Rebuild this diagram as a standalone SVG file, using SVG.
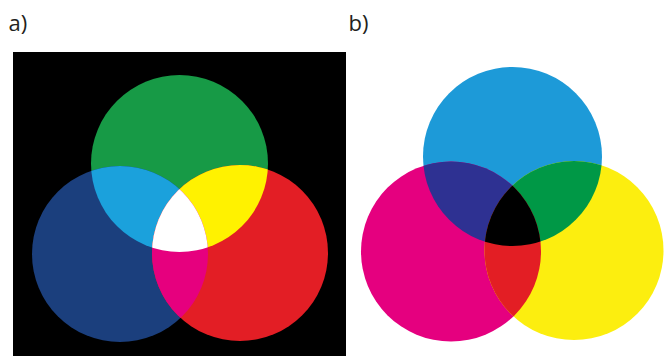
<svg xmlns="http://www.w3.org/2000/svg" xmlns:xlink="http://www.w3.org/1999/xlink" width="664" height="356" viewBox="0 0 664 356">
  <style>
    .lbl { font-family: "Open Sans", "Liberation Sans", sans-serif; font-size: 22px; fill: #231f20; }
  </style>
  <defs>
    <circle id="cG" cx="179.5" cy="163.5" r="88.5"/>
    <circle id="cB" cx="120" cy="254" r="88"/>
    <circle id="cR" cx="240" cy="253" r="88"/>
    <circle id="cC" cx="512.5" cy="156.5" r="89.5"/>
    <circle id="cM" cx="451" cy="251.5" r="90"/>
    <circle id="cY" cx="574" cy="250.5" r="89.5"/>
    <clipPath id="clipG"><use xlink:href="#cG"/></clipPath>
    <clipPath id="clipB"><use xlink:href="#cB"/></clipPath>
    <clipPath id="clipC"><use xlink:href="#cC"/></clipPath>
    <clipPath id="clipM"><use xlink:href="#cM"/></clipPath>
  </defs>
  <rect width="664" height="356" fill="#ffffff"/>

  <g id="label-a"><text class="lbl" x="8.5" y="31">a)</text></g>
  <g id="label-b"><text class="lbl" x="348.5" y="31">b)</text></g>

  <g id="panel-a">
    <rect x="13" y="52" width="333" height="304" fill="#000000"/>
    <use xlink:href="#cG" fill="#179a46"/>
    <use xlink:href="#cB" fill="#1b3f7d"/>
    <use xlink:href="#cR" fill="#e31e25"/>
    <g clip-path="url(#clipG)">
      <use xlink:href="#cB" fill="#1ba1dc"/>
      <use xlink:href="#cR" fill="#fff200"/>
    </g>
    <g clip-path="url(#clipB)">
      <use xlink:href="#cR" fill="#e6007e"/>
      <g clip-path="url(#clipG)">
        <use xlink:href="#cR" fill="#ffffff"/>
      </g>
    </g>
  </g>

  <g id="panel-b">
    <use xlink:href="#cC" fill="#1d9ad8"/>
    <use xlink:href="#cM" fill="#e5007f"/>
    <use xlink:href="#cY" fill="#fcee0f"/>
    <g clip-path="url(#clipC)">
      <use xlink:href="#cM" fill="#2e3192"/>
      <use xlink:href="#cY" fill="#009846"/>
    </g>
    <g clip-path="url(#clipM)">
      <use xlink:href="#cY" fill="#e31e24"/>
      <g clip-path="url(#clipC)">
        <use xlink:href="#cY" fill="#000000"/>
      </g>
    </g>
  </g>
</svg>
